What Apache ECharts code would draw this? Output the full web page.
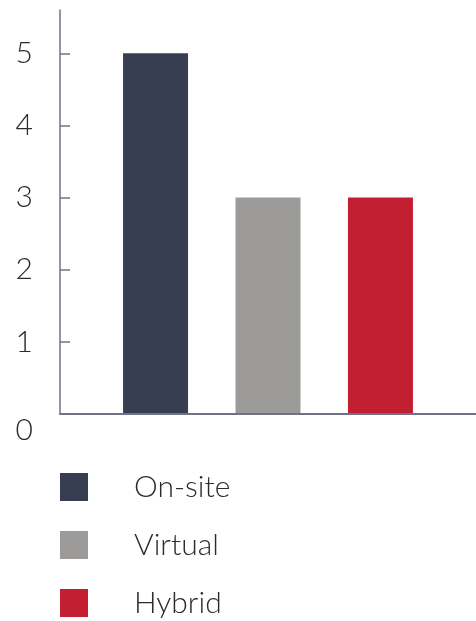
<!DOCTYPE html>
<html>
<head>
<meta charset="utf-8">
<script src="https://cdn.jsdelivr.net/npm/echarts@6/dist/echarts.min.js"></script>
<style>
  html, body { margin: 0; padding: 0; background: #ffffff; }
  #chart { width: 476px; height: 621px; }
</style>
</head>
<body>
<div id="chart"></div>
<script>
// Event format counts
const seriesNames = ['On-site', 'Virtual', 'Hybrid'];
const seriesValues = [5, 3, 3];
const seriesColors = ['#383e52', '#9c9b99', '#c21f32'];
const yTicks = [0, 1, 2, 3, 4, 5];

const FONT = 'Lato, "Open Sans", sans-serif';
const AXIS_COLOR = '#6f7388';

const chart = echarts.init(document.getElementById('chart'), null, { renderer: 'canvas' });

const series = seriesNames.map((name, i) => ({
  name: name,
  type: 'bar',
  data: [seriesValues[i]],
  barWidth: 65,
  barGap: '73%',
  itemStyle: { color: seriesColors[i] },
  z: 1
}));

chart.setOption({
  animation: false,
  backgroundColor: '#ffffff',
  grid: { left: 60, width: 420, top: 10, bottom: 207, containLabel: false },
  xAxis: {
    type: 'category',
    data: ['Format'],
    axisLine: { show: true, lineStyle: { color: AXIS_COLOR, width: 2 } },
    axisTick: { show: false },
    axisLabel: { show: false },
    z: 3
  },
  yAxis: {
    type: 'value',
    min: 0,
    max: 5.6,
    interval: 1,
    splitLine: { show: false },
    axisLine: { show: true, lineStyle: { color: AXIS_COLOR, width: 1.5 } },
    axisTick: {
      show: true,
      inside: true,
      length: 10,
      lineStyle: { color: AXIS_COLOR, width: 1.5 },
      customValues: yTicks
    },
    axisLabel: {
      show: true,
      margin: 27,
      customValues: yTicks,
      color: '#2b2b2b',
      fontFamily: FONT,
      fontWeight: 300,
      fontSize: 30,
      formatter: v => (v === 0 ? '{zero|0}' : String(v)),
      rich: {
        zero: {
          fontFamily: FONT,
          fontWeight: 300,
          fontSize: 30,
          color: '#2b2b2b',
          padding: [32, 0, 0, 0]
        }
      }
    }
  },
  legend: {
    show: true,
    orient: 'vertical',
    left: 60,
    top: 472,
    padding: 0,
    itemWidth: 28,
    itemHeight: 28,
    itemGap: 28,
    icon: 'rect',
    data: seriesNames,
    textStyle: {
      fontFamily: FONT,
      fontWeight: 300,
      fontSize: 30,
      lineHeight: 28,
      color: '#2b2b2b',
      padding: [0, 0, 0, 41]
    }
  },
  series: series
});
</script>
</body>
</html>
